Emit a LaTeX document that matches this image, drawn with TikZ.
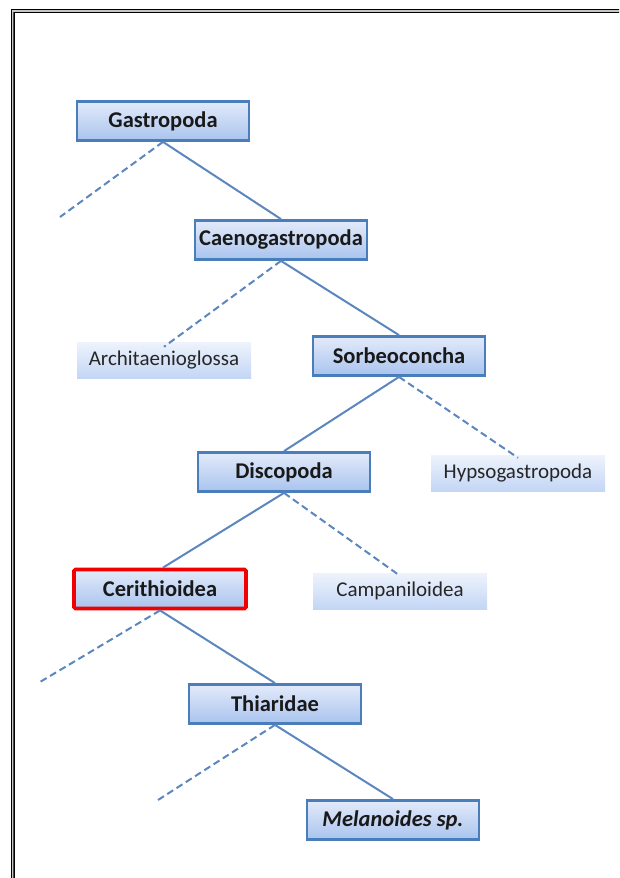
\documentclass[tikz,border=0pt]{standalone}
\usepackage{fontspec}
\setmainfont{Carlito}
\definecolor{edgeblue}{HTML}{4A7EBB}
\definecolor{linkblue}{HTML}{5B86BE}
\definecolor{filltop}{HTML}{E3EBFA}
\definecolor{fillbot}{HTML}{A9C3EE}
\definecolor{softtop}{HTML}{EEF3FC}
\definecolor{softbot}{HTML}{C3D6F5}
\definecolor{markred}{HTML}{F00000}
\tikzset{
  taxon/.style={draw=edgeblue, line width=2.8pt, top color=filltop, bottom color=fillbot,
    minimum width=172pt, minimum height=39pt, inner sep=0pt,
    font=\fontsize{22.5}{26}\selectfont\bfseries, text=black!90},
  sidetaxon/.style={top color=softtop, bottom color=softbot,
    minimum width=174pt, minimum height=36pt, inner sep=0pt,
    font=\fontsize{21}{25}\selectfont, text=black!85},
  focus/.style={draw=markred, line width=3.8pt, rounded corners=1.5pt},
  branch/.style={draw=linkblue, line width=2pt},
  sidebranch/.style={branch, dash pattern=on 7pt off 4pt},
}
\begin{document}
\begin{tikzpicture}[x=1pt,y=-1pt]
\useasboundingbox (0,0) rectangle (619,878);
% page frame
\begin{scope}
\clip (0,0) rectangle (619,878);
\draw[black!70, line width=2.6pt] (12.5,11) rectangle (700,1000);
\draw[black, line width=0.9pt] (11,9.3) rectangle (700,1000);
\draw[black, line width=0.9pt] (14.3,12.7) rectangle (700,1000);
\draw[gray!45, line width=1.4pt] (12.6,11) rectangle (700,1000);
\end{scope}
% side-branch ends
\coordinate (g0) at (60,217);
\coordinate (c0) at (40,682);
\coordinate (t0) at (158,800);
% taxa
\node[taxon] (gas) at (163,121) {Gastropoda};
\node[taxon] (cae) at (281,240) {Caenogastropoda};
\node[sidetaxon] (arc) at (164,360) {Architaenioglossa};
\node[taxon] (sor) at (399,356) {Sorbeoconcha};
\node[taxon] (dis) at (284,472) {Discopoda};
\node[sidetaxon] (hyp) at (518,473) {Hypsogastropoda};
\node[taxon, focus] (cer) at (160,589) {Cerithioidea};
\node[sidetaxon] (cam) at (400,591) {Campaniloidea};
\node[taxon] (thi) at (275,704) {Thiaridae};
\node[taxon] (mel) at (393,820) {\itshape Melanoides sp.};
% main lineage
\draw[branch] (gas.south) -- (cae.north);
\draw[branch] (cae.south) -- (sor.north);
\draw[branch] (sor.south) -- (dis.north);
\draw[branch] (dis.south) -- ([xshift=3pt]cer.north);
\draw[branch] (cer.south) -- (thi.north);
\draw[branch] (thi.south) -- (mel.north);
% side branches
\draw[sidebranch] (gas.south) -- (g0);
\draw[sidebranch] (cae.south) -- ([yshift=-5pt]arc.north);
\draw[sidebranch] (sor.south) -- ([yshift=-3pt]hyp.north);
\draw[sidebranch] (dis.south) -- ([yshift=-3pt]cam.north);
\draw[sidebranch] (cer.south) -- (c0);
\draw[sidebranch] (thi.south) -- (t0);
\end{tikzpicture}
\end{document}
